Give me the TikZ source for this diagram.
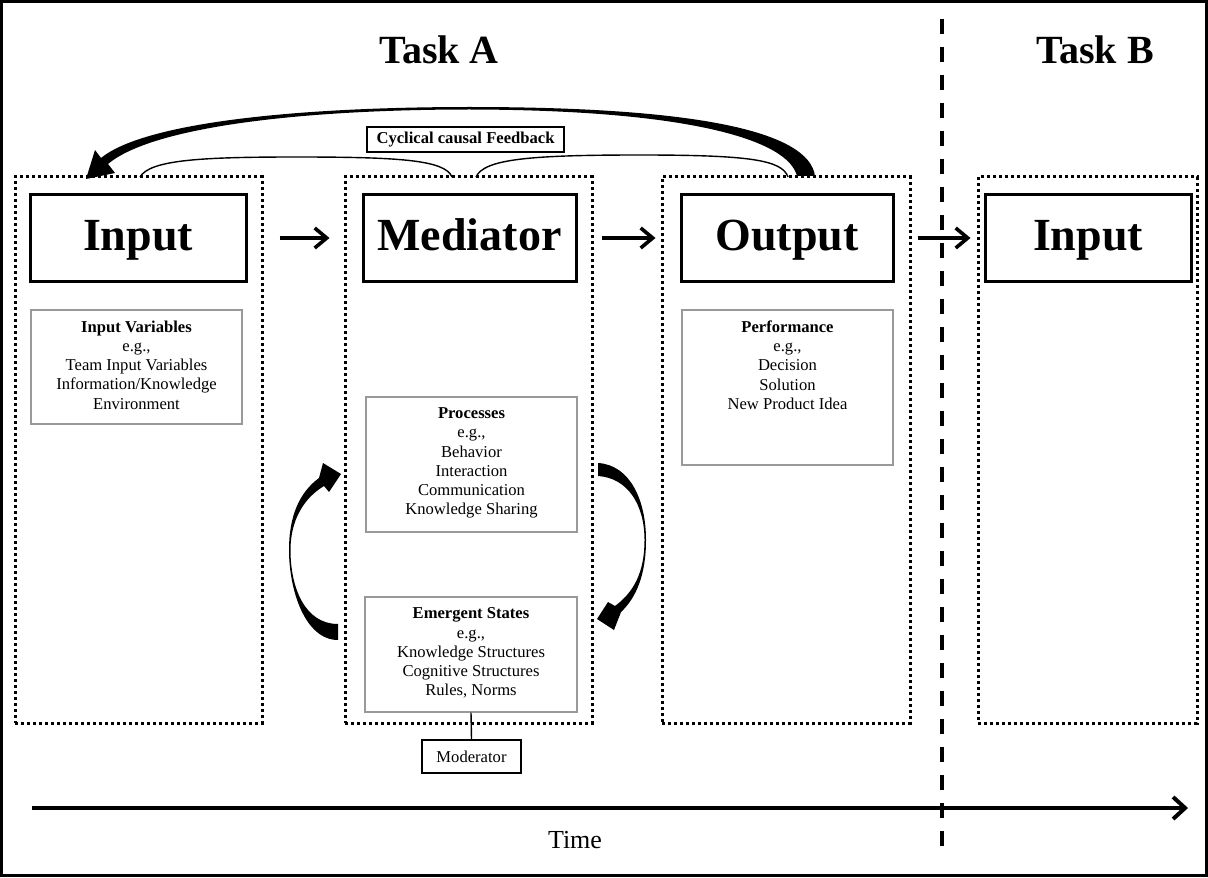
\documentclass[tikz,border=0pt]{standalone}
\usepackage{fontspec}
\setmainfont{Liberation Serif}
\usetikzlibrary{arrows.meta,fit,calc}

\begin{document}
\begin{tikzpicture}[x=0.5pt,y=-0.5pt,
  frame/.style={draw, line width=1.5pt},
  column/.style={draw, line width=1.5pt, dash pattern=on 1.5pt off 1.5pt, inner sep=0pt},
  titlebox/.style={draw, line width=1.5pt, inner sep=0pt},
  titletext/.style={inner sep=0pt, anchor=base, font=\fontsize{23}{27}\selectfont\bfseries},
  infobox/.style={draw=black!40, line width=0.6pt, inner sep=0pt},
  infotext/.style={font=\fontsize{8.3}{9.6}\selectfont, align=center, inner sep=0pt, anchor=north},
  smallbox/.style={draw, line width=0.6pt, inner sep=0pt},
  smalltext/.style={font=\fontsize{8.3}{9.6}\selectfont, inner sep=0pt},
  tasklabel/.style={font=\fontsize{20}{24}\selectfont\bfseries},
  flow/.style={line width=1.8pt, -{Straight Barb[length=6pt,width=10pt]}},
  timeline/.style={line width=2pt, -{Straight Barb[length=6pt,width=11pt]}},
  divider/.style={line width=1.75pt, dash pattern=on 7.5pt off 6.5pt},
  hump/.style={line width=0.7pt}
]
\useasboundingbox (0,0) rectangle (1208,877);
\draw[frame] (1.5,1.5) rectangle (1206.5,875.5);

% task headings
\node[tasklabel] (taskA) at (439,50) {Task A};
\node[tasklabel] (taskB) at (1095,50) {Task B};

% boundary between the two tasks
\coordinate (divtop) at (942,19);
\coordinate (divbot) at (942,858);
\draw[divider] (divtop) -- (divbot);

% dotted columns
\node[column, fit={(15,177) (262,723)}] (colIn) {};
\node[column, fit={(345,177) (592,723)}] (colMed) {};
\node[column, fit={(662,177) (910,723)}] (colOut) {};
\node[column, fit={(978,177) (1197,723)}] (colInB) {};

% column titles (shared baseline)
\node[titlebox, fit={(30,195) (246,281)}] (tIn) {};
\node[titletext] (tInL) at ($(tIn.center)+(0,12)$) {Input};
\node[titlebox, fit={(363,195) (576,281)}] (tMed) {};
\node[titletext] (tMedL) at ($(tMed.center)+(0,12)$) {Mediator};
\node[titlebox, fit={(681,195) (893,281)}] (tOut) {};
\node[titletext] (tOutL) at ($(tOut.center)+(0,12)$) {Output};
\node[titlebox, fit={(985,195) (1191,281)}] (tInB) {};
\node[titletext] (tInBL) at ($(tInB.center)+(0,12)$) {Input};

% flow between columns
\draw[flow, shorten <=16pt, shorten >=16pt] (tIn) -- (tMed);
\draw[flow, shorten <=12pt, shorten >=12pt] (tMed) -- (tOut);
\draw[flow, shorten <=11.5pt, shorten >=6.5pt] (tOut) -- (tInB);

% detail boxes
\node[infobox, fit={(31,310) (242,424)}] (iv) {};
\node[infotext] (ivL) at ($(iv.north)+(0,11)$) {\textbf{Input Variables}\\e.g.,\\Team Input Variables\\Information/Knowledge\\Environment};

\node[infobox, fit={(682,310) (893,465)}] (perf) {};
\node[infotext] (perfL) at ($(perf.north)+(0,11)$) {\textbf{Performance}\\e.g.,\\Decision\\Solution\\New Product Idea};

\node[infobox, fit={(366,397) (577,532)}] (proc) {};
\node[infotext] (procL) at ($(proc.north)+(0,11)$) {\textbf{Processes}\\e.g.,\\Behavior\\Interaction\\Communication\\Knowledge Sharing};

\node[infobox, fit={(365,597) (577,712)}] (emer) {};
\node[infotext] (emerL) at ($(emer.north)+(0,11)$) {\textbf{Emergent States}\\e.g.,\\Knowledge Structures\\Cognitive Structures\\Rules, Norms};

% moderator
\node[smallbox, fit={(422,740) (521,773)}] (mod) {};
\node[smalltext] (modL) at (mod.center) {Moderator};
\draw[line width=0.7pt] (emer.south) -- (mod.north);

% feedback label
\node[smallbox, fit={(367,127) (564,152)}] (fb) {};
\node[smalltext, font=\fontsize{8.3}{9.6}\selectfont\bfseries] (fbL) at (fb.center) {Cyclical causal Feedback};

% thin arcs over the columns
\draw[hump] (140,177) .. controls (150,160) and (200,157) .. (296,157)
  .. controls (400,157) and (445,160) .. (452,177);
\draw[hump] (476,177) .. controls (484,159) and (530,155) .. (640,155)
  .. controls (750,155) and (782,160) .. (788,177);

% tapered feedback arrow from output back to input
\fill (815,176) .. controls (809,132) and (700,107) .. (470,107)
  .. controls (300,107) and (145,122) .. (101,158)
  -- (95,150) -- (86,179) -- (115,173) -- (108,164)
  .. controls (152,127) and (300,109.5) .. (470,109.5)
  .. controls (690,110) and (788,140) .. (797,176) -- cycle;

% tapered cycle arrows between processes and emergent states
\fill (338,640) .. controls (305,640) and (289,590) .. (289,550)
  .. controls (289,515) and (300,492) .. (319,478)
  -- (323,463) -- (341,474) -- (329,492) -- (324,486)
  .. controls (304,498) and (290.5,520) .. (290.5,550)
  .. controls (290.5,588) and (305,624) .. (338,624) -- cycle;

\fill (598,463) .. controls (630,465) and (646,500) .. (646,540)
  .. controls (646,575) and (636,598) .. (621,612)
  -- (614,630) -- (597,619) -- (608,602) -- (615,606)
  .. controls (634,592) and (644.5,572) .. (644.5,540)
  .. controls (644.5,505) and (628,478) .. (598,476) -- cycle;

% time axis
\coordinate (tstart) at (32,808);
\coordinate (tend) at (1188,808);
\draw[timeline] (tstart) -- (tend);
\node[font=\fontsize{13}{16}\selectfont] (time) at (575,840) {Time};
\end{tikzpicture}
\end{document}
